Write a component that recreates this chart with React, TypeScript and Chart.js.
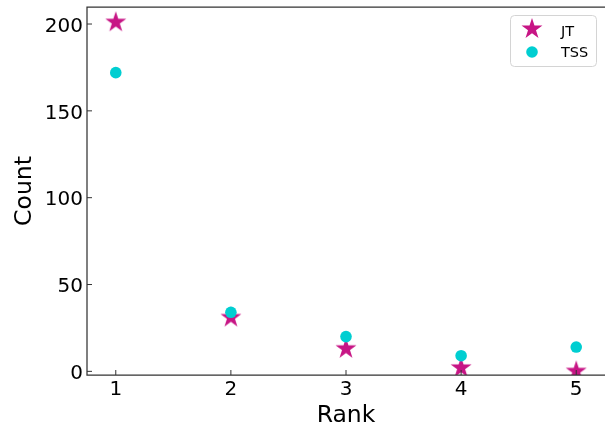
import React, { useEffect, useRef } from "react";
import { Chart, registerables } from "chart.js";

Chart.register(...registerables);

// ---- data ----
const ranks = [1, 2, 3, 4, 5];
const jtCounts = [201, 31, 13, 2, 0];
const tssCounts = [172, 34, 20, 9, 14];
const seriesLabels = ["JT", "TSS"];
const xTicks = [1, 2, 3, 4, 5];
const yTicks = [0, 50, 100, 150, 200];
const xTitle = "Rank";
const yTitle = "Count";

const JT_COLOR = "#c71585";
const TSS_COLOR = "#00ced1";
const FONT = "'DejaVu Sans', sans-serif";

function makeStar(radius: number, color: string): HTMLCanvasElement {
  const size = Math.ceil(radius) * 2 + 2;
  const c = document.createElement("canvas");
  c.width = size;
  c.height = size;
  const ctx = c.getContext("2d")!;
  const cx = size / 2;
  const cy = size / 2;
  ctx.beginPath();
  for (let i = 0; i < 10; i++) {
    const r = i % 2 === 0 ? radius : radius * 0.381966;
    const a = -Math.PI / 2 + (i * Math.PI) / 5;
    const px = cx + r * Math.cos(a);
    const py = cy + r * Math.sin(a);
    if (i === 0) ctx.moveTo(px, py);
    else ctx.lineTo(px, py);
  }
  ctx.closePath();
  ctx.fillStyle = color;
  ctx.fill();
  return c;
}

export default function App() {
  const ref = useRef<HTMLCanvasElement | null>(null);

  useEffect(() => {
    if (!ref.current) return;
    const star = makeStar(11, JT_COLOR);

    const framePlugin = {
      id: "frame",
      afterDatasetsDraw(chart: any) {
        const { ctx, chartArea: a, scales } = chart;
        ctx.save();
        ctx.strokeStyle = "#333";
        ctx.lineWidth = 1.25;
        ctx.beginPath();
        ctx.moveTo(a.right + 2, a.top);
        ctx.lineTo(a.left, a.top);
        ctx.lineTo(a.left, a.bottom);
        ctx.lineTo(a.right + 2, a.bottom);
        ctx.stroke();
        ctx.lineWidth = 1;
        ctx.beginPath();
        xTicks.forEach((v) => {
          const px = scales.x.getPixelForValue(v);
          ctx.moveTo(px, a.bottom);
          ctx.lineTo(px, a.bottom - 5);
        });
        yTicks.forEach((v) => {
          const py = scales.y.getPixelForValue(v);
          ctx.moveTo(a.left, py);
          ctx.lineTo(a.left + 5, py);
        });
        ctx.stroke();
        ctx.restore();
      },
      afterDraw(chart: any) {
        const { ctx } = chart;
        ctx.save();
        const bx = 510.5, by = 15.5, bw = 86, bh = 51;
        ctx.beginPath();
        (ctx as any).roundRect(bx, by, bw, bh, 4);
        ctx.fillStyle = "rgba(255,255,255,0.8)";
        ctx.fill();
        ctx.strokeStyle = "#d4d4d4";
        ctx.lineWidth = 1;
        ctx.stroke();
        ctx.drawImage(star, 532 - star.width / 2, 29 - star.height / 2);
        ctx.beginPath();
        ctx.arc(532, 52, 5.8, 0, Math.PI * 2);
        ctx.fillStyle = TSS_COLOR;
        ctx.fill();
        ctx.fillStyle = "#000";
        ctx.font = `14.5px ${FONT}`;
        ctx.textBaseline = "alphabetic";
        ctx.textAlign = "left";
        ctx.fillText(seriesLabels[0], 561, 36);
        ctx.fillText(seriesLabels[1], 561, 56.7);
        ctx.restore();
      },
    };

    const zeroPad = (scale: any) => {
      scale.paddingTop = 0;
      scale.paddingBottom = 0;
      scale.paddingLeft = 0;
      scale.paddingRight = 0;
    };

    const chart = new Chart(ref.current, {
      type: "scatter",
      data: {
        datasets: [
          {
            label: seriesLabels[0],
            data: ranks.map((r, i) => ({ x: r, y: jtCounts[i] })),
            pointStyle: star as any,
            backgroundColor: JT_COLOR,
            borderColor: JT_COLOR,
            order: 1,
            clip: 0 as any,
          },
          {
            label: seriesLabels[1],
            data: ranks.map((r, i) => ({ x: r, y: tssCounts[i] })),
            pointStyle: "circle",
            pointRadius: 5.8,
            borderWidth: 0,
            backgroundColor: TSS_COLOR,
            borderColor: TSS_COLOR,
            order: 0,
            clip: 0 as any,
          },
        ],
      },
      options: {
        responsive: false,
        animation: false,
        events: [],
        layout: { autoPadding: false, padding: { top: 7, left: 0, right: 0, bottom: 0 } },
        plugins: {
          legend: { display: false },
          tooltip: { enabled: false },
        },
        scales: {
          x: {
            type: "linear",
            min: 0.75,
            max: 5.25,
            grid: { display: false, drawTicks: false },
            border: { display: false },
            afterBuildTicks: (scale: any) => {
              scale.ticks = xTicks.map((v) => ({ value: v }));
            },
            afterFit: (scale: any) => {
              scale.height = 51;
              zeroPad(scale);
            },
            ticks: {
              padding: 3,
              color: "#000",
              font: { family: FONT, size: 20, lineHeight: 1.2 },
            },
            title: {
              display: true,
              text: xTitle,
              color: "#000",
              font: { family: FONT, size: 23.5, lineHeight: 0.85 },
              padding: { top: 0, bottom: 0 },
            },
          },
          y: {
            type: "linear",
            min: -2.1,
            max: 209.8,
            grid: { display: false, drawTicks: false },
            border: { display: false },
            afterBuildTicks: (scale: any) => {
              scale.ticks = yTicks.map((v) => ({ value: v }));
            },
            afterFit: (scale: any) => {
              scale.width = 87;
              zeroPad(scale);
            },
            ticks: {
              padding: 4,
              labelOffset: 2.5,
              color: "#000",
              font: { family: FONT, size: 20, lineHeight: 1.2 },
            },
            title: {
              display: true,
              text: yTitle,
              color: "#000",
              font: { family: FONT, size: 23.5, lineHeight: 0.85 },
              padding: { top: 15, bottom: 0 },
            },
          },
        },
      },
      plugins: [framePlugin],
    });

    return () => chart.destroy();
  }, []);

  return (
    <div style={{ position: "fixed", left: 0, top: 0, width: 605, height: 426, background: "#fff" }}>
      <canvas ref={ref} width={605} height={426} style={{ display: "block" }} />
    </div>
  );
}
